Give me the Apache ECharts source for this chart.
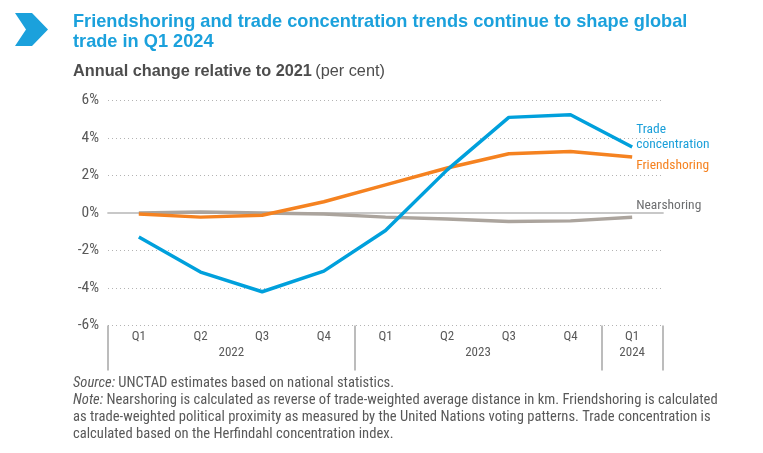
<!DOCTYPE html>
<html>
<head>
<meta charset="utf-8">
<script src="https://cdn.jsdelivr.net/npm/echarts@6/dist/echarts.min.js"></script>
<style>
html,body{margin:0;padding:0;background:#fff;}
#chart{width:763px;height:453px;}
</style>
</head>
<body>
<div id="chart"></div>
<script>
var quarters = ['Q1','Q2','Q3','Q4','Q1','Q2','Q3','Q4','Q1'];
var years = ['2022','2023','2024'];
var yearCenters = [2, 6, 8.5];
var yearBounds = [0, 4, 8, 9];
var tradeConcentration = [-1.28, -3.15, -4.2, -3.1, -0.93, 2.3, 5.1, 5.24, 3.52];
var friendshoring = [-0.05, -0.22, -0.12, 0.6, 1.5, 2.4, 3.16, 3.28, 2.99];
var nearshoring = [0.0, 0.05, 0.0, -0.05, -0.22, -0.32, -0.45, -0.42, -0.23];

var narrow = "'Liberation Sans Narrow','Roboto Condensed','DejaVu Sans Condensed','Arial Narrow',sans-serif";
var BLUE = '#00a0dc', ORANGE = '#f58220', GREY = '#aba49d';

var chart = echarts.init(document.getElementById('chart'));
chart.setOption({
  animation: false,
  backgroundColor: '#fff',
  graphic: [
    {type:'polygon', shape:{points:[[15,13],[32,13],[48,29.5],[32,46],[15,46],[26,29.5]]}, style:{fill:'#1ba1dc'}},
    {type:'text', left:73, top:12, style:{text:'Friendshoring and trade concentration trends continue to shape global\ntrade in Q1 2024', font:"bold 18.2px 'Liberation Sans',Arial,sans-serif", fill:'#1ba1dc', lineHeight:20}},
    {type:'text', left:73, top:64, style:{text:'{b|Annual change relative to 2021} {n|(per cent)}', rich:{b:{font:"bold 16.3px 'Liberation Sans',Arial,sans-serif", fill:'#4d4d4d'}, n:{font:"16.3px 'Liberation Sans',Arial,sans-serif", fill:'#4d4d4d'}}}},
    {type:'text', left:73, top:375, style:{text:'{i|Source:} UNCTAD estimates based on national statistics.\n{i|Note:} Nearshoring is calculated as reverse of trade-weighted average distance in km. Friendshoring is calculated\nas trade-weighted political proximity as measured by the United Nations voting patterns. Trade concentration is\ncalculated based on the Herfindahl concentration index.', font:"14.6px " + narrow, fill:'#595959', lineHeight:17, rich:{i:{fontStyle:'italic', fontFamily: narrow, fontSize:14.6, fill:'#595959'}}}}
  ],
  grid: {left:108, right:100, top:100.5, bottom:127.5, containLabel:false},
  xAxis: [
    {type:'category', data:quarters, boundaryGap:true, position:'bottom',
     axisLine:{show:true, lineStyle:{color:'#a6a6a6', width:1.5}},
     axisTick:{show:false},
     axisLabel:{color:'#595959', fontFamily:narrow, fontSize:13, margin:5},
     splitLine:{show:false}},
    {type:'value', min:0, max:9, position:'bottom', gridIndex:0,
     axisLine:{show:false},
     axisTick:{show:true, customValues:yearBounds, length:45, lineStyle:{color:'#a6a6a6', width:1.5}},
     axisLabel:{show:true, customValues:yearCenters, color:'#595959', fontFamily:narrow, fontSize:13, margin:21,
       formatter:function(v){ var i = yearCenters.indexOf(v); return i >= 0 ? years[i] : ''; }},
     splitLine:{show:false}}
  ],
  yAxis: {type:'value', min:-6, max:6, interval:2,
    axisLine:{show:false}, axisTick:{show:false},
    axisLabel:{color:'#595959', fontFamily:narrow, fontSize:15.5, margin:9, formatter:'{value}%'},
    splitLine:{show:true, lineStyle:{color:'#b3b3b3', type:[1,3], width:1}}},
  series: [
    {name:'Nearshoring', type:'line', data:nearshoring, symbol:'none', lineStyle:{color:GREY, width:3.5}, z:3,
     markLine:{silent:true, symbol:'none', label:{show:false}, lineStyle:{color:'#c8c8c8', type:'solid', width:2}, data:[{yAxis:0}], z:1},
     endLabel:{show:true, formatter:'Nearshoring', color:'#6d6e70', fontFamily:narrow, fontSize:13.5, distance:4, offset:[0,-12]}},
    {name:'Friendshoring', type:'line', data:friendshoring, symbol:'none', lineStyle:{color:ORANGE, width:3.5}, z:4,
     endLabel:{show:true, formatter:'Friendshoring', color:ORANGE, fontFamily:narrow, fontSize:13.5, distance:4, offset:[0,9]}},
    {name:'Trade concentration', type:'line', data:tradeConcentration, symbol:'none', lineStyle:{color:BLUE, width:3.5}, z:5,
     endLabel:{show:true, formatter:'Trade\nconcentration', color:'#1a9fd9', fontFamily:narrow, fontSize:13.5, lineHeight:15, distance:4, offset:[0,-10]}}
  ]
});
</script>
</body>
</html>
